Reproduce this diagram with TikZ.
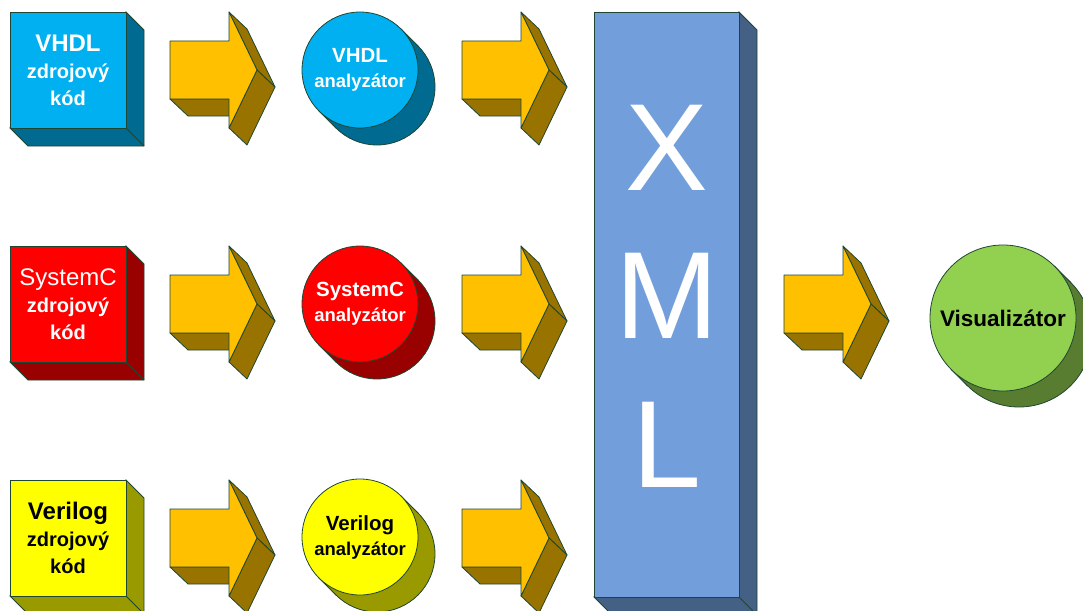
\documentclass[tikz,border=0pt]{standalone}
\usepackage{fontspec}
\setmainfont{Liberation Sans}
\usetikzlibrary{calc,backgrounds}
\definecolor{edge}{RGB}{30,70,50}
\definecolor{vhdlF}{RGB}{0,176,240}
\definecolor{vhdlD}{RGB}{0,106,144}
\definecolor{scF}{RGB}{255,0,0}
\definecolor{scD}{RGB}{153,0,0}
\definecolor{vlF}{RGB}{255,255,0}
\definecolor{vlD}{RGB}{153,153,0}
\definecolor{arF}{RGB}{255,192,0}
\definecolor{arD}{RGB}{153,115,0}
\definecolor{xmlF}{RGB}{114,159,219}
\definecolor{xmlD}{RGB}{68,96,133}
\definecolor{visF}{RGB}{146,208,80}
\definecolor{visD}{RGB}{88,125,48}
\newcommand\extrudebox[3]{%
  \filldraw[outl, fill=#2] (#1.south west) -- ++(#3,#3) -- ($(#1.south east)+(#3,#3)$)
    -- ($(#1.north east)+(#3,#3)$) -- (#1.north east) -- (#1.south east) -- cycle;
  \draw[outl] (#1.south east) -- ++(#3,#3);}
\newcommand\extrudecirc[4]{%
  \filldraw[outl, fill=#2] ($(#1.center)+(#3,#3)$) circle[radius=#4pt];
  \fill[#2] (#1.north east) -- ++(#3,#3) -- ($(#1.south west)+(#3,#3)$) -- (#1.south west) -- cycle;
  \draw[outl] (#1.north east) -- ++(#3,#3);
  \draw[outl] (#1.south west) -- ++(#3,#3);}
\begin{document}
\begin{tikzpicture}[x=1pt,y=-1pt,line join=round,
  outl/.style={draw=edge, line width=0.8pt},
  srcbox/.style={outl, rectangle, minimum width=116pt, minimum height=116pt, inner sep=0pt, outer sep=0pt,
    align=center, font=\fontsize{20}{27}\selectfont\bfseries},
  anbox/.style={outl, circle, minimum size=116pt, inner sep=0pt, outer sep=0pt,
    align=center, font=\fontsize{18.5}{25}\selectfont\bfseries},
  pics/blockarrow/.style={code={
    \filldraw[outl, fill=arD] (0,29) -- (18,46) -- (77,46) -- (59,29) -- cycle;
    \filldraw[outl, fill=arD] (59,-58) -- (77,-41) -- (105,17) -- (87,0) -- cycle;
    \filldraw[outl, fill=arD] (87,0) -- (105,17) -- (77,75) -- (59,58) -- cycle;
    \filldraw[outl, fill=arF] (0,-29) -- (59,-29) -- (59,-58) -- (87,0) -- (59,58) -- (59,29) -- (0,29) -- cycle;
  }}]
\clip (0,0) rectangle (1083,610);
% source boxes
\node[srcbox, fill=vhdlF, text=white] (vsrc) at (68,70) {{\fontsize{24}{24}\selectfont VHDL}\\zdrojový\\kód};
\node[srcbox, fill=scF, text=white] (ssrc) at (68,304) {{\fontsize{24}{24}\selectfont\mdseries SystemC}\\zdrojový\\kód};
\node[srcbox, fill=vlF, text=black] (lsrc) at (68,538) {{\fontsize{24}{24}\selectfont Verilog}\\zdrojový\\kód};
% analyzers
\node[anbox, fill=vhdlF, text=white] (van) at (360,70) {{\fontsize{20.5}{20.5}\selectfont VHDL}\\analyzátor};
\node[anbox, fill=scF, text=white] (san) at (360,304) {{\fontsize{20.5}{20.5}\selectfont SystemC}\\analyzátor};
\node[anbox, fill=vlF, text=black] (lan) at (360,537) {{\fontsize{20.5}{20.5}\selectfont Verilog}\\analyzátor};
% XML bar
\node[outl, rectangle, fill=xmlF, minimum width=145pt, minimum height=585pt, inner sep=0pt, outer sep=0pt] (xml) at (666.5,304.5) {};
\node[text=white, align=center, inner sep=0pt, font=\fontsize{124}{148.5}\selectfont] (xmltext) at (667,296) {X\\M\\L};
% visualizer
\node[outl, circle, fill=visF, minimum size=146pt, inner sep=0pt, outer sep=0pt, font=\fontsize{22.5}{27}\selectfont\bfseries] (vis) at (1003,318) {Visualizátor};
\begin{pgfonlayer}{background}
  \extrudebox{vsrc}{vhdlD}{18}
  \extrudebox{ssrc}{scD}{18}
  \extrudebox{lsrc}{vlD}{18}
  \extrudebox{xml}{xmlD}{18}
  \extrudecirc{van}{vhdlD}{17}{58}
  \extrudecirc{san}{scD}{17}{58}
  \extrudecirc{lan}{vlD}{17}{58}
  \extrudecirc{vis}{visD}{16}{73}
\end{pgfonlayer}
% block arrows
\pic at (170,70) {blockarrow};
\pic at (170,304) {blockarrow};
\pic at (170,538) {blockarrow};
\pic at (462,70) {blockarrow};
\pic at (462,304) {blockarrow};
\pic at (462,538) {blockarrow};
\pic at (784,304) {blockarrow};
\end{tikzpicture}
\end{document}
